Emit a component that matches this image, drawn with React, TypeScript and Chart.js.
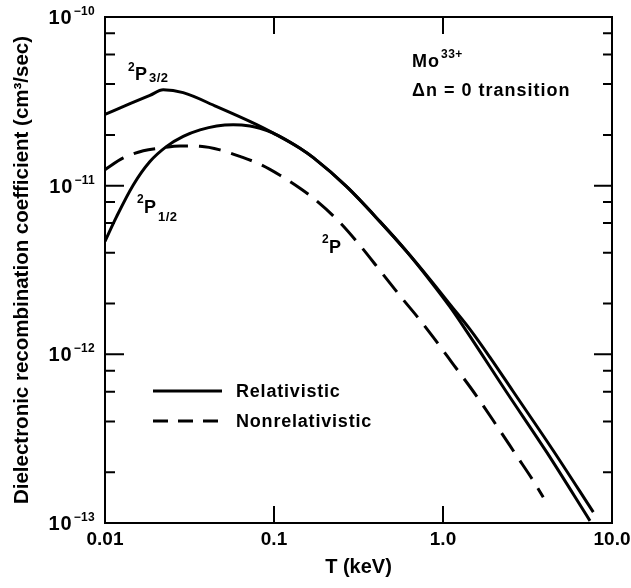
import React, { useEffect, useRef } from 'react';
import { Chart, registerables } from 'chart.js';

Chart.register(...registerables);

const FONT = "'Liberation Sans', Arial, Helvetica, sans-serif";

// Axis ticks
const xTickValues = [0.01, 0.1, 1, 10];
const xTickLabels = ['0.01', '0.1', '1.0', '10.0'];
const yTickValues = [1e-13, 1e-12, 1e-11, 1e-10];
const yTickBase = '10';
const yTickExponents = ['−13', '−12', '−11', '−10'];
const yMinorMultipliers = [2, 4, 6, 8];

// Relativistic 2P3/2
const tP32 = [0.01, 0.01406, 0.01845, 0.0221, 0.029, 0.0458, 0.079, 0.099, 0.1425, 0.1709, 0.2692, 0.4238, 0.6097, 0.8378, 1.1, 1.381, 2.381, 4.108, 7.41];
const aP32 = [2.65e-11, 3.06e-11, 3.43e-11, 3.7e-11, 3.56e-11, 2.94e-11, 2.3e-11, 2.05e-11, 1.667e-11, 1.465e-11, 9.86e-12, 6.12e-12, 4.07e-12, 2.74e-12, 1.91e-12, 1.368e-12, 5.96e-13, 2.63e-13, 1.03e-13];

// Relativistic 2P1/2
const tP12 = [0.01, 0.01173, 0.0147, 0.01845, 0.02317, 0.02904, 0.0365, 0.0458, 0.0574, 0.0721, 0.0826, 0.099, 0.1425, 0.1709, 0.2692, 0.4238, 0.6097, 0.8378, 1.1, 1.445, 1.897, 2.596, 4.477, 7.75];
const aP12 = [4.68e-12, 6.58e-12, 1.01e-11, 1.39e-11, 1.71e-11, 1.96e-11, 2.14e-11, 2.26e-11, 2.3e-11, 2.26e-11, 2.19e-11, 2.05e-11, 1.667e-11, 1.465e-11, 9.86e-12, 6.12e-12, 4.07e-12, 2.78e-12, 1.977e-12, 1.406e-12, 9.6e-13, 6.04e-13, 2.7e-13, 1.16e-13];

// Nonrelativistic 2P
const tP = [0.01, 0.01283, 0.01686, 0.02113, 0.0278, 0.0365, 0.0479, 0.0629, 0.0826, 0.1085, 0.1425, 0.1709, 0.2458, 0.3228, 0.4238, 0.5797, 0.698, 0.877, 1.15, 1.58, 2.08, 2.73, 3.42, 3.92];
const aP = [1.245e-11, 1.46e-11, 1.61e-11, 1.67e-11, 1.72e-11, 1.71e-11, 1.63e-11, 1.49e-11, 1.34e-11, 1.153e-11, 9.665e-12, 8.43e-12, 6.04e-12, 4.42e-12, 3.14e-12, 2.115e-12, 1.69e-12, 1.26e-12, 8.73e-13, 5.66e-13, 3.77e-13, 2.5e-13, 1.78e-13, 1.42e-13];

const legendLabels = ['Relativistic', 'Nonrelativistic'];

const toPoints = (t: number[], a: number[]) => t.map((x, i) => ({ x, y: a[i] }));

function txt(ctx: any, s: string, x: number, y: number, size: number, spacing = 0) {
  ctx.font = `bold ${size}px ${FONT}`;
  ctx.letterSpacing = `${spacing}px`;
  ctx.fillText(s, x, y);
  ctx.letterSpacing = '0px';
}

const decorPlugin = {
  id: 'decor',
  afterDraw(chart: any) {
    const { ctx, chartArea: a, scales } = chart;
    const xs = scales.x;
    const ys = scales.y;
    ctx.save();
    ctx.strokeStyle = '#000';
    ctx.fillStyle = '#000';
    ctx.lineWidth = 2;
    ctx.strokeRect(a.left, a.top, a.right - a.left, a.bottom - a.top);

    ctx.beginPath();
    yTickValues.forEach((v) => {
      const py = ys.getPixelForValue(v);
      ctx.moveTo(a.left, py); ctx.lineTo(a.left + 19, py);
      ctx.moveTo(a.right, py); ctx.lineTo(a.right - 18, py);
    });
    yTickValues.slice(0, -1).forEach((d) => {
      yMinorMultipliers.forEach((m) => {
        const py = ys.getPixelForValue(m * d);
        ctx.moveTo(a.left, py); ctx.lineTo(a.left + 10, py);
        ctx.moveTo(a.right, py); ctx.lineTo(a.right - 9, py);
      });
    });
    xTickValues.slice(1, -1).forEach((v) => {
      const px = xs.getPixelForValue(v);
      ctx.moveTo(px, a.bottom); ctx.lineTo(px, a.bottom - 17);
      ctx.moveTo(px, a.top); ctx.lineTo(px, a.top + 17);
    });
    ctx.stroke();

    // y tick labels with superscript exponents
    ctx.textBaseline = 'alphabetic';
    yTickValues.forEach((v, i) => {
      const py = ys.getPixelForValue(v);
      ctx.textAlign = 'right';
      txt(ctx, yTickExponents[i], a.left - 10, py - 2, 12, 0.3);
      ctx.font = `bold 12px ${FONT}`;
      ctx.letterSpacing = '0.3px';
      const w = ctx.measureText(yTickExponents[i]).width;
      ctx.letterSpacing = '0px';
      txt(ctx, yTickBase, a.left - 10 - w - 1, py + 7, 20, 1);
    });

    // annotations
    ctx.textAlign = 'left';
    txt(ctx, 'Mo', 412, 67, 18, 1);
    txt(ctx, '33+', 441, 58, 12, 0.5);
    txt(ctx, 'Δn = 0 transition', 412, 96, 18, 1);

    txt(ctx, '2', 128, 71, 12);
    txt(ctx, 'P', 135, 80, 18, 1);
    txt(ctx, '3/2', 149, 82, 13, 0.5);

    txt(ctx, '2', 137, 203, 12);
    txt(ctx, 'P', 144, 213, 18, 1);
    txt(ctx, '1/2', 158, 221, 13, 0.5);

    txt(ctx, '2', 322, 243, 12);
    txt(ctx, 'P', 329, 253, 18, 1);

    // legend
    const ds0 = chart.data.datasets[0];
    const ds2 = chart.data.datasets[2];
    ctx.lineWidth = ds0.borderWidth;
    ctx.strokeStyle = ds0.borderColor;
    ctx.setLineDash([]);
    ctx.beginPath(); ctx.moveTo(153, 391); ctx.lineTo(222, 391); ctx.stroke();
    ctx.strokeStyle = ds2.borderColor;
    ctx.setLineDash([15, 10]);
    ctx.beginPath(); ctx.moveTo(153, 421); ctx.lineTo(222, 421); ctx.stroke();
    ctx.setLineDash([]);
    txt(ctx, legendLabels[0], 236, 397, 18, 0.8);
    txt(ctx, legendLabels[1], 236, 427, 18, 0.8);
    ctx.restore();
  },
};

export default function App() {
  const ref = useRef<HTMLCanvasElement>(null);
  useEffect(() => {
    const lineBase = {
      borderColor: '#000',
      backgroundColor: '#000',
      borderWidth: 3,
      pointRadius: 0,
      fill: false,
      cubicInterpolationMode: 'monotone' as const,
    };
    const chart = new Chart(ref.current!, {
      type: 'line',
      data: {
        datasets: [
          { ...lineBase, label: '2P3/2 (Relativistic)', data: toPoints(tP32, aP32) },
          { ...lineBase, label: '2P1/2 (Relativistic)', data: toPoints(tP12, aP12) },
          { ...lineBase, label: '2P (Nonrelativistic)', data: toPoints(tP, aP), borderDash: [22, 11] },
        ],
      },
      options: {
        animation: false,
        responsive: false,
        devicePixelRatio: 1,
        layout: { padding: { left: 0, right: 19, top: 17, bottom: 0 } },
        plugins: { legend: { display: false }, tooltip: { enabled: false } },
        scales: {
          x: {
            type: 'logarithmic',
            min: 0.01,
            max: 10,
            grid: { display: false, drawTicks: false },
            border: { display: false },
            afterBuildTicks: (s: any) => { s.ticks = xTickValues.map((v) => ({ value: v })); },
            afterFit: (s: any) => { s.height = 65; s.paddingLeft = 0; s.paddingRight = 0; },
            ticks: {
              autoSkip: false,
              maxRotation: 0,
              padding: 5,
              color: '#000',
              font: { family: FONT, size: 19, weight: 'bold' },
              callback: (_v: any, i: number) => xTickLabels[i],
            },
            title: {
              display: true,
              text: 'T (keV)',
              color: '#000',
              font: { family: FONT, size: 20, weight: 'bold' },
              padding: { top: 0, bottom: 9 },
            },
          },
          y: {
            type: 'logarithmic',
            min: 1e-13,
            max: 1e-10,
            grid: { display: false, drawTicks: false },
            border: { display: false },
            afterBuildTicks: (s: any) => { s.ticks = yTickValues.map((v) => ({ value: v })); },
            afterFit: (s: any) => { s.width = 105; s.paddingTop = 0; s.paddingBottom = 0; },
            ticks: { display: false },
            title: {
              display: true,
              text: 'Dielectronic recombination coefficient (cm³/sec)',
              color: '#000',
              font: { family: FONT, size: 20.5, weight: 'bold' },
              padding: { top: 10, bottom: 0 },
            },
          },
        },
      },
      plugins: [decorPlugin],
    });
    return () => chart.destroy();
  }, []);
  return (
    <div style={{ position: 'fixed', left: 0, top: 0, width: 631, height: 588, background: '#fff' }}>
      <canvas ref={ref} width={631} height={588} style={{ display: 'block', width: 631, height: 588 }} />
    </div>
  );
}
